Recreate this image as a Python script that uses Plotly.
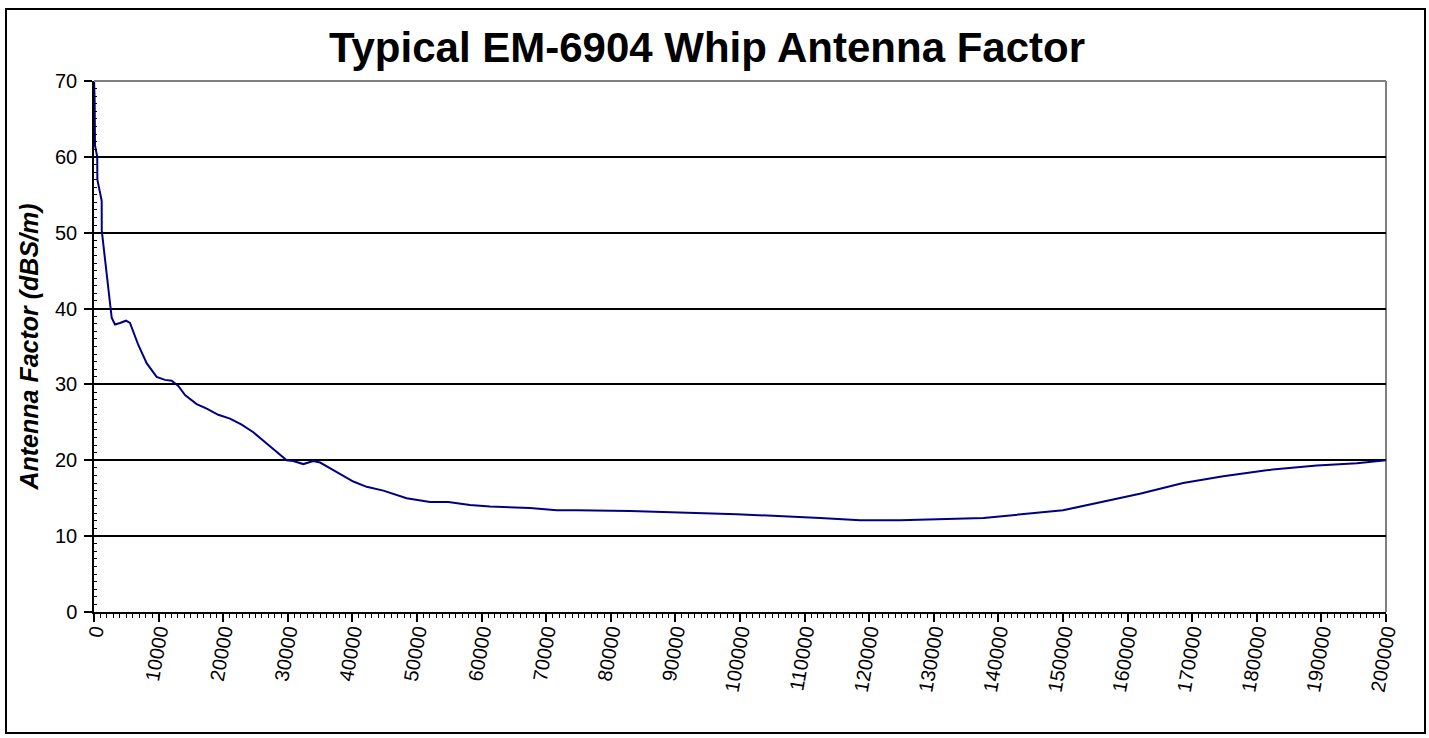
import plotly.graph_objects as go

freq_hz = [10, 100, 155, 500, 520, 1190, 1200, 1970, 2480, 2740,
           3250, 4020, 4950, 5570, 6860, 8150, 9700, 10990, 12030, 13050,
           14090, 15890, 17450, 19240, 21050, 22860, 24660, 26730, 28530, 29830,
           30850, 32400, 33950, 35000, 37050, 38600, 40140, 42210, 44790, 48400,
           52010, 54850, 58200, 61300, 67500, 71630, 74720, 82970, 99490, 112400,
           118600, 124800, 137700, 150000, 155700, 161900, 168600, 174800, 181500, 189300,
           195500, 200000]
antenna_factor = [70, 67.5, 61.5, 60, 57, 54.2, 50.3, 45, 40.7, 38.8,
                  37.9, 38.1, 38.4, 38.1, 35.2, 32.8, 31.0, 30.6, 30.5, 29.8,
                  28.6, 27.4, 26.8, 26.0, 25.5, 24.7, 23.7, 22.2, 20.9, 20.0,
                  19.9, 19.5, 19.9, 19.7, 18.7, 17.9, 17.2, 16.5, 16.0, 15.0,
                  14.5, 14.5, 14.1, 13.9, 13.7, 13.4, 13.4, 13.3, 12.9, 12.4,
                  12.1, 12.1, 12.4, 13.4, 14.5, 15.6, 17.0, 17.9, 18.7, 19.3,
                  19.6, 20.0]

title_text = "Typical EM-6904 Whip Antenna Factor"
y_title = "Antenna Factor (dBS/m)"

FONT = "Liberation Sans, Arial, sans-serif"

fig = go.Figure()
fig.add_trace(go.Scatter(x=freq_hz, y=antenna_factor, mode="lines",
                         line=dict(color="#000080", width=2), showlegend=False,
                         hoverinfo="x+y"))

W, H = 1429, 738
L, R, T, B = 94, 43, 81, 126
pw, ph = W - L - R, H - T - B

def px(xp):
    return (xp - L) / pw

def py(yp):
    return (H - B - yp) / ph

fig.update_layout(
    width=W, height=H,
    margin=dict(l=L, r=R, t=T, b=B, pad=0),
    paper_bgcolor="white", plot_bgcolor="white",
    font=dict(family=FONT, color="black", size=20),
    title=dict(text="<b>" + title_text + "</b>", x=707 / W, xanchor="center",
               y=1 - 47 / H, yanchor="middle", yref="container", xref="container",
               font=dict(size=42, family=FONT, color="black")),
    xaxis=dict(range=[0, 200000], dtick=10000, tick0=0, tickformat="d",
               showgrid=False, zeroline=False, showline=True, linecolor="black",
               linewidth=1.5, ticks="outside", ticklen=8, tickcolor="black",
               tickwidth=1.5, tickangle=-80, ticklabelstandoff=-10,
               tickfont=dict(size=20, family=FONT, color="black"),
               minor=dict(dtick=1000, ticks="outside", ticklen=4,
                          tickcolor="black", tickwidth=1.2, showgrid=False)),
    yaxis=dict(range=[0, 70], dtick=10, tick0=0, showgrid=True,
               gridcolor="black", gridwidth=1.5, zeroline=False,
               showline=True, linecolor="black", linewidth=1.5,
               ticks="outside", ticklen=8, tickcolor="black", tickwidth=1.5,
               ticklabelstandoff=3,
               tickfont=dict(size=20, family=FONT, color="black"),
               title=dict(text="<b><i>" + y_title + "</i></b>", standoff=9,
                          font=dict(size=25, family=FONT, color="black")),
               minor=dict(dtick=1, ticks="inside", ticklen=3,
                          tickcolor="black", tickwidth=1.2, showgrid=False)),
    shapes=[
        dict(type="line", xref="paper", yref="paper", x0=0, x1=1, y0=1, y1=1,
             line=dict(color="#808080", width=2), layer="above"),
        dict(type="line", xref="paper", yref="paper", x0=1, x1=1, y0=0, y1=1,
             line=dict(color="#808080", width=2), layer="below"),
        dict(type="rect", xref="paper", yref="paper",
             x0=px(6), x1=px(1425), y0=py(733), y1=py(9),
             line=dict(color="black", width=2), fillcolor="rgba(0,0,0,0)",
             layer="below"),
    ],
)

fig.write_html("out.html", config={"displayModeBar": False},
               post_script="document.body.style.margin='0';document.body.style.overflow='hidden';")
